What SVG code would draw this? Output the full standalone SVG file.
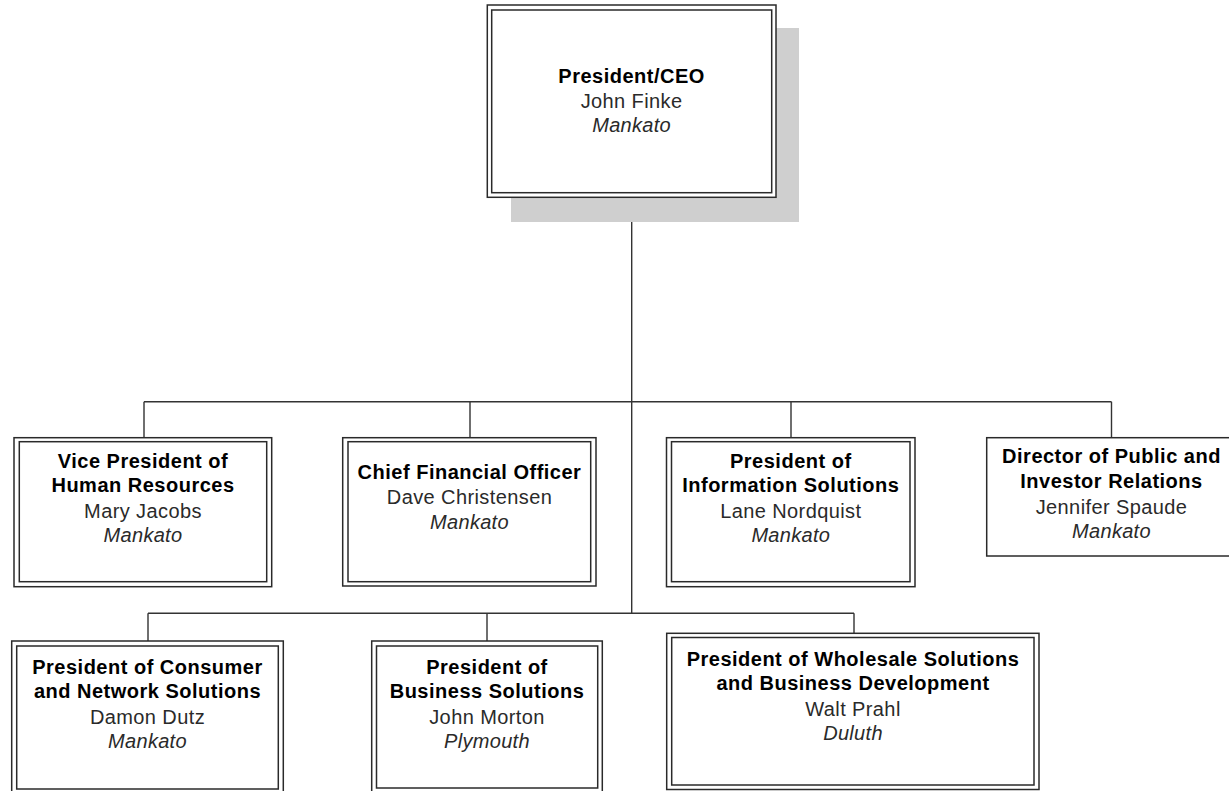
<svg xmlns="http://www.w3.org/2000/svg" width="1229" height="791" viewBox="0 0 1229 791">
<style>
.outer{fill:#fff;stroke:#2a2a2a;stroke-width:1.5}
.inner{fill:none;stroke:#2a2a2a;stroke-width:1.5}
.shadow{fill:#cfcfcf}
.conn{stroke:#333;stroke-width:1.4;fill:none}
.t{font-family:"Liberation Sans",Arial,sans-serif;font-size:20px;text-anchor:middle}
.b{font-weight:bold;fill:#000;letter-spacing:0.5px}
.n{fill:#2a2a2a;letter-spacing:0.4px}
.i{font-style:italic;fill:#2a2a2a;letter-spacing:0.3px}
</style>
<rect width="1229" height="791" fill="#fff"/>
<g id="connectors">
<path class="conn" d="M631.7,197 V613.3 M144,401.7 H1111.5 M144,401.7 V437.7 M470,401.7 V437.7 M791,401.7 V437.7 M1111.5,401.7 V437.7 M148,613.3 H854 M148,613.3 V641 M487,613.3 V641 M854,613.3 V633.3"/>
</g>
<g id="ceo">
<rect class="shadow" x="511" y="28" width="288" height="194"/>
<rect class="outer" x="487.3" y="5" width="288.7" height="192.3"/>
<rect class="inner" x="491.7" y="10" width="280" height="182.7"/>
<text class="t b" x="631.6" y="83">President/CEO</text>
<text class="t n" x="631.6" y="108">John Finke</text>
<text class="t i" x="631.6" y="132">Mankato</text>
</g>
<g id="vp-hr">
<rect class="outer" x="14" y="437.7" width="257.7" height="149"/>
<rect class="inner" x="19.3" y="441.7" width="247.4" height="140"/>
<text class="t b" x="143" y="468">Vice President of</text>
<text class="t b" x="143" y="492">Human Resources</text>
<text class="t n" x="143" y="518">Mary Jacobs</text>
<text class="t i" x="143" y="542">Mankato</text>
</g>
<g id="cfo">
<rect class="outer" x="342.7" y="437.7" width="253.3" height="148.3"/>
<rect class="inner" x="348" y="441.7" width="242.7" height="140"/>
<text class="t b" x="469.5" y="479">Chief Financial Officer</text>
<text class="t n" x="469.5" y="504">Dave Christensen</text>
<text class="t i" x="469.5" y="529">Mankato</text>
</g>
<g id="info">
<rect class="outer" x="666.5" y="437.7" width="248.5" height="149"/>
<rect class="inner" x="671.5" y="441.7" width="238.5" height="140"/>
<text class="t b" x="790.8" y="468">President of</text>
<text class="t b" x="790.8" y="492">Information Solutions</text>
<text class="t n" x="790.8" y="518">Lane Nordquist</text>
<text class="t i" x="790.8" y="542">Mankato</text>
</g>
<g id="director">
<rect class="outer" x="986.7" y="437.7" width="249" height="118.3"/>
<text class="t b" x="1111.5" y="463">Director of Public and</text>
<text class="t b" x="1111.5" y="488">Investor Relations</text>
<text class="t n" x="1111.5" y="514">Jennifer Spaude</text>
<text class="t i" x="1111.5" y="538">Mankato</text>
</g>
<g id="consumer">
<rect class="outer" x="11.7" y="641" width="271.6" height="152"/>
<rect class="inner" x="16.7" y="646" width="261.6" height="143"/>
<text class="t b" x="147.5" y="674">President of Consumer</text>
<text class="t b" x="147.5" y="698">and Network Solutions</text>
<text class="t n" x="147.5" y="724">Damon Dutz</text>
<text class="t i" x="147.5" y="748">Mankato</text>
</g>
<g id="business">
<rect class="outer" x="371.7" y="641" width="230.6" height="152"/>
<rect class="inner" x="376.5" y="646" width="221.2" height="142"/>
<text class="t b" x="487" y="674">President of</text>
<text class="t b" x="487" y="698">Business Solutions</text>
<text class="t n" x="487" y="724">John Morton</text>
<text class="t i" x="487" y="748">Plymouth</text>
</g>
<g id="wholesale">
<rect class="outer" x="666.7" y="633.3" width="372.3" height="156.2"/>
<rect class="inner" x="671.7" y="637.5" width="362.3" height="147.5"/>
<text class="t b" x="853" y="666">President of Wholesale Solutions</text>
<text class="t b" x="853" y="690">and Business Development</text>
<text class="t n" x="853" y="716">Walt Prahl</text>
<text class="t i" x="853" y="740">Duluth</text>
</g>
</svg>
